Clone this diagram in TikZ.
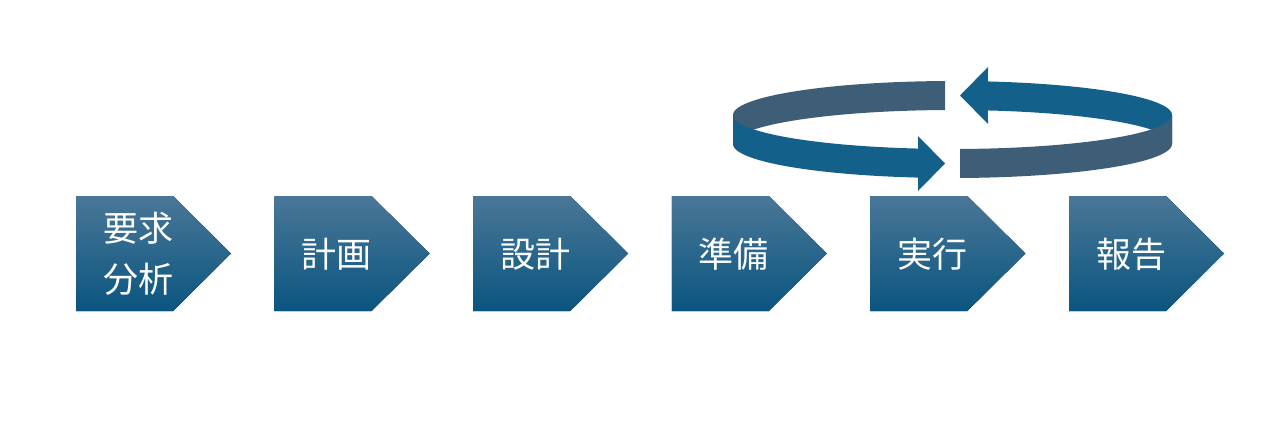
\documentclass[tikz,border=0pt]{standalone}
\usepackage{fontspec}
\newfontfamily\cjk{Noto Sans CJK JP}
\usetikzlibrary{positioning}
\definecolor{stagetop}{HTML}{4A7797}
\definecolor{stagebottom}{HTML}{0A5580}
\definecolor{ringblue}{HTML}{13618B}
\definecolor{ringgray}{HTML}{3E5E78}

\begin{document}
\begin{tikzpicture}[x=0.5pt, y=-0.5pt,
  stage/.style={top color=stagetop, bottom color=stagebottom, draw=none},
  stagetext/.style={text=white, font=\cjk\fontsize{17.5}{25.5}\selectfont, align=center, inner sep=0pt}]
\useasboundingbox (0,0) rectangle (1280,434);

% Cycle (back half)
\fill[ringgray] plot[domain=91.96:180, samples=40] ({952.5+219.5*cos(\x)},{115-34*sin(\x)})
  -- plot[domain=180:91.96, samples=40] ({952.5+219.5*cos(\x)},{144-34*sin(\x)}) -- cycle;
\fill[ringblue] plot[domain=80.7:0, samples=40] ({952.5+219.5*cos(\x)},{115-34*sin(\x)})
  -- plot[domain=0:80.7, samples=40] ({952.5+219.5*cos(\x)},{144-34*sin(\x)})
  -- (988,124) -- (960,95.5) -- (988,67) -- cycle;

% Cycle (front half)
\fill[ringblue] plot[domain=180:261, samples=40] ({952.5+219.5*cos(\x)},{115-34*sin(\x)})
  -- (918,136) -- (945,163.5) -- (918,191)
  -- plot[domain=261:180, samples=40] ({952.5+219.5*cos(\x)},{144-34*sin(\x)}) -- cycle;
\fill[ringgray] plot[domain=271.96:360, samples=40] ({952.5+219.5*cos(\x)},{115-34*sin(\x)})
  -- plot[domain=360:271.96, samples=40] ({952.5+219.5*cos(\x)},{144-34*sin(\x)}) -- cycle;

% Stages
\foreach \i/\name/\txt in {0/req/{要求\\分析}, 1/plan/計画, 2/design/設計, 3/prep/準備, 4/exec/実行, 5/report/報告}{
  \pgfmathsetmacro{\sx}{76+198.6*\i}
  \fill[stage] (\sx,196) -- ++(97,0) -- ++(58,57.5) -- ++(-58,57.5) -- ++(-97,0) -- cycle;
  \node[stagetext] (\name) at (\sx+62,254) {\txt};
}

\end{tikzpicture}
\end{document}
